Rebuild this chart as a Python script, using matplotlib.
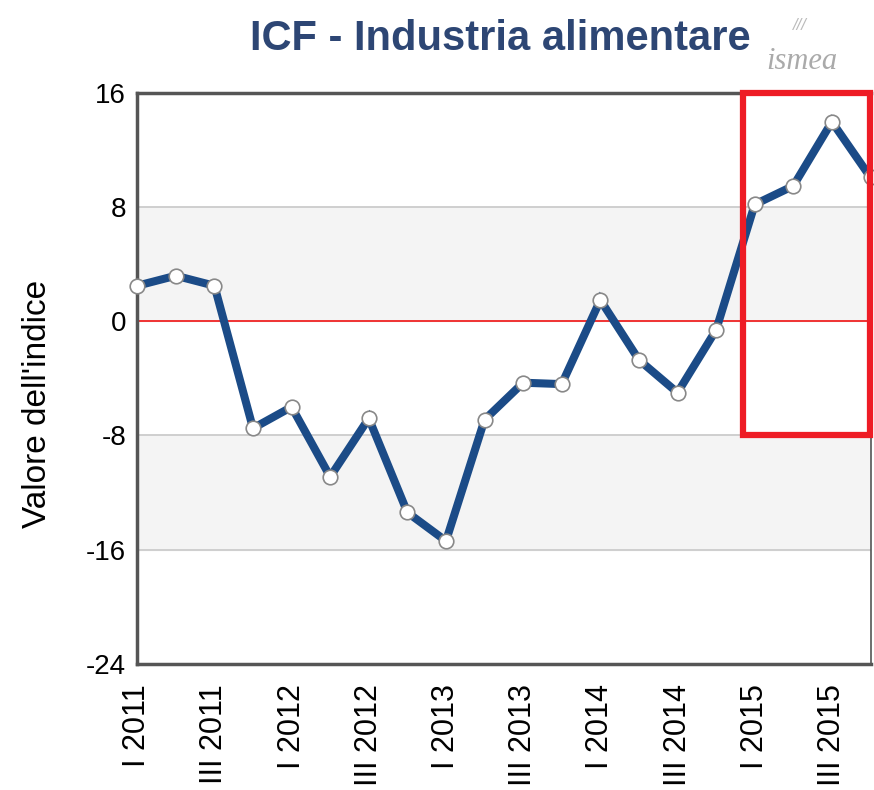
import matplotlib.pyplot as plt
from matplotlib.patches import Rectangle

plt.rcParams['font.family'] = ['Liberation Sans', 'DejaVu Sans']

quarters = ['I 2011', 'II 2011', 'III 2011', 'IV 2011',
            'I 2012', 'II 2012', 'III 2012', 'IV 2012',
            'I 2013', 'II 2013', 'III 2013', 'IV 2013',
            'I 2014', 'II 2014', 'III 2014', 'IV 2014',
            'I 2015', 'II 2015', 'III 2015', 'IV 2015']
icf = [2.5, 3.2, 2.5, -7.5,
       -6.0, -10.9, -6.8, -13.4,
       -15.4, -6.9, -4.3, -4.4,
       1.5, -2.7, -5.0, -0.6,
       8.2, 9.5, 14.0, 10.1]
yticks = [-24, -16, -8, 0, 8, 16]
bands = [(0, 8), (-16, -8)]

fig = plt.figure(figsize=(8.74, 7.90), dpi=100)
ax = fig.add_axes([0.157, 0.16, 0.839, 0.722])

x = list(range(len(quarters)))
for lo, hi in bands:
    ax.axhspan(lo, hi, color='#f4f4f4', zorder=0)
for v in [8, -8, -16]:
    ax.axhline(v, color='#c8c8c8', lw=1.2, zorder=1)
ax.axhline(0, color='#ee1111', lw=1.2, zorder=1)

ax.plot(x, icf, color='#1b4b87', lw=5.8, solid_joinstyle='miter', zorder=3,
        marker='o', markersize=10.5, markerfacecolor='white',
        markeredgecolor='#888888', markeredgewidth=1.2, clip_on=False)

# highlight box on 2015
ax.add_patch(Rectangle((15.7, -8), 3.28, 24, fill=False, edgecolor='#ee1c25',
                       lw=4.5, zorder=4, clip_on=False))

ax.set_xlim(0, len(quarters) - 1)
ax.set_ylim(-24, 16)
ax.set_yticks(yticks)
ax.set_yticklabels([str(t) for t in yticks], fontsize=20)
ax.set_xticks(x[::2])
ax.set_xticklabels(quarters[::2], rotation=90, fontsize=22)
ax.tick_params(axis='y', length=0, pad=8)
ax.tick_params(axis='x', length=0, pad=15)
for s in ax.spines.values():
    s.set_color('#555555')
    s.set_linewidth(2.5)
ax.spines['right'].set_linewidth(1.2)

ax.set_ylabel("Valore dell'indice", fontsize=24)
ax.yaxis.set_label_coords(-0.115, 0.456)

fig.text(0.573, 0.951, 'ICF - Industria alimentare', ha='center', va='center',
         fontsize=30, fontweight='bold', color='#2d4674')
fig.text(0.877, 0.922, 'ismea', ha='left', va='center', fontsize=22,
         family='Liberation Serif', style='italic', color='#aaaaaa')
fig.text(0.915, 0.968, '///', ha='center', va='center', fontsize=12,
         color='#bbbbbb', style='italic')

fig.savefig('out.png', dpi=100)
